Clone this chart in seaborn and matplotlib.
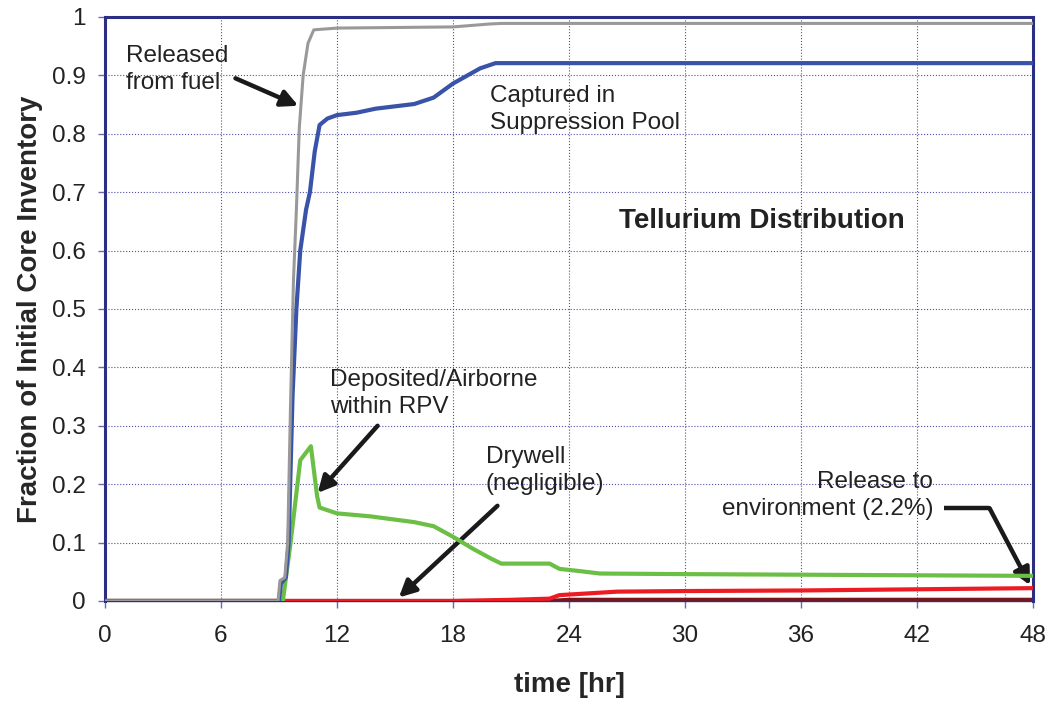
import numpy as np
import matplotlib
matplotlib.use('Agg')
import matplotlib.pyplot as plt
import seaborn as sns

# ── Data ─────────────────────────────────────────────────────────────────────

fuel_t = [0, 8.95, 9.05, 9.3, 9.45, 9.6, 9.75, 9.9, 10.05, 10.25, 10.5, 10.8,
          12, 18, 19.9, 20.5, 48]
fuel_v = [0, 0, 0.035, 0.04, 0.10, 0.34, 0.55, 0.67, 0.81, 0.90, 0.955, 0.978,
          0.981, 0.983, 0.988, 0.989, 0.989]

pool_t = [0, 9.0, 9.1, 9.35, 9.5, 9.7, 9.9, 10.1, 10.4, 10.6, 10.85, 11.1,
          11.5, 12, 13, 14, 16, 17, 18, 19.4, 20.2, 48]
pool_v = [0, 0, 0.03, 0.04, 0.10, 0.35, 0.50, 0.60, 0.67, 0.70, 0.77, 0.815,
          0.826, 0.832, 0.836, 0.843, 0.851, 0.862, 0.886, 0.912, 0.921, 0.921]

rpv_t = [0, 9.2, 9.6, 10.1, 10.65, 10.97, 11.1, 12, 13.7, 16, 17, 18, 19,
         20, 20.5, 23, 23.5, 24.6, 25.6, 30, 48]
rpv_v = [0, 0, 0.10, 0.241, 0.265, 0.18, 0.16, 0.15, 0.145, 0.135, 0.128,
         0.11, 0.09, 0.072, 0.064, 0.064, 0.055, 0.051, 0.047, 0.046, 0.043]

env_t = [0, 18, 21, 23, 23.5, 25, 26.5, 30, 36, 42, 48]
env_v = [0, 0, 0.002, 0.004, 0.010, 0.013, 0.016, 0.017, 0.018, 0.020, 0.022]

dw_t = [0, 23, 24, 48]
dw_v = [0, 0, 0.002, 0.002]

X_TICKS = list(range(0, 49, 6))
Y_TICKS = [round(0.1 * i, 1) for i in range(11)]
Y_LABELS = ['0'] + [f'{v:g}' for v in Y_TICKS[1:-1]] + ['1']

NAVY = '#2b2e83'

# ── Plot ─────────────────────────────────────────────────────────────────────

sns.set_style('white')
plt.rcParams['font.family'] = ['Liberation Sans', 'DejaVu Sans']

fig, ax = plt.subplots(figsize=(10.53, 7.02), dpi=100)
fig.subplots_adjust(left=0.0997, right=0.981, top=0.9758, bottom=0.1439)

sns.lineplot(x=dw_t, y=dw_v, ax=ax, color='#7b1518', lw=3.0, zorder=2)
sns.lineplot(x=env_t, y=env_v, ax=ax, color='#ed1c24', lw=3.0, zorder=3)
sns.lineplot(x=rpv_t, y=rpv_v, ax=ax, color='#6cbf45', lw=3.0, zorder=4)
sns.lineplot(x=pool_t, y=pool_v, ax=ax, color='#3953a8', lw=3.0, zorder=5)
sns.lineplot(x=fuel_t, y=fuel_v, ax=ax, color='#999999', lw=2.2, zorder=6)

ax.set_xlim(0, 48)
ax.set_ylim(0, 1)
ax.set_xticks(X_TICKS)
ax.set_yticks(Y_TICKS)
ax.set_yticklabels(Y_LABELS)
ax.tick_params(axis='both', labelsize=17.5, colors='#222222', direction='out',
               length=5, width=1, color='#6a6ab0', left=True, bottom=True)
ax.tick_params(axis='x', pad=12)
ax.tick_params(axis='y', pad=9)
ax.grid(True, color='#3c3ca0', linestyle=':', linewidth=0.8, alpha=0.9)
for side, sp in ax.spines.items():
    sp.set_visible(True)
    sp.set_color(NAVY)
    sp.set_linewidth(2.2)
ax.spines['bottom'].set_linewidth(1.0)

ax.set_xlabel('time [hr]', fontsize=20, fontweight='bold', labelpad=18)
ax.set_ylabel('Fraction of Initial Core Inventory', fontsize=20,
              fontweight='bold', labelpad=6)

txt = dict(fontsize=17.5, color='#222222', linespacing=1.3)
arrow = dict(arrowstyle='-|>,head_length=1.0,head_width=0.5', color='#1a1a1a',
             lw=3.2, shrinkA=0, shrinkB=0)

ax.text(1.1, 0.952, 'Released\nfrom fuel', ha='left', va='top', **txt)
ax.annotate('', xy=(10.0, 0.848), xytext=(6.75, 0.895), arrowprops=arrow)

ax.text(19.9, 0.884, 'Captured in\nSuppression Pool', ha='left', va='top', **txt)

ax.text(34.0, 0.651, 'Tellurium Distribution', ha='center', va='center',
        fontsize=20, fontweight='bold', color='#222222')

ax.text(11.65, 0.398, 'Deposited/Airborne\nwithin RPV', ha='left', va='top', **txt)
ax.annotate('', xy=(11.0, 0.185), xytext=(14.1, 0.30), arrowprops=arrow)

ax.text(19.7, 0.266, 'Drywell\n(negligible)', ha='left', va='top', **txt)
ax.annotate('', xy=(15.2, 0.006), xytext=(20.3, 0.163), arrowprops=arrow)

ax.text(42.83, 0.223, 'Release to\nenvironment (2.2%)', ha='right', va='top',
        multialignment='right', **txt)
ax.plot([43.4, 45.75], [0.159, 0.159], color='#1a1a1a', lw=3.2,
        solid_capstyle='butt', zorder=7)
ax.annotate('', xy=(47.85, 0.027), xytext=(45.75, 0.159), arrowprops=arrow)

plt.savefig('out.png', dpi=100)
plt.close()
